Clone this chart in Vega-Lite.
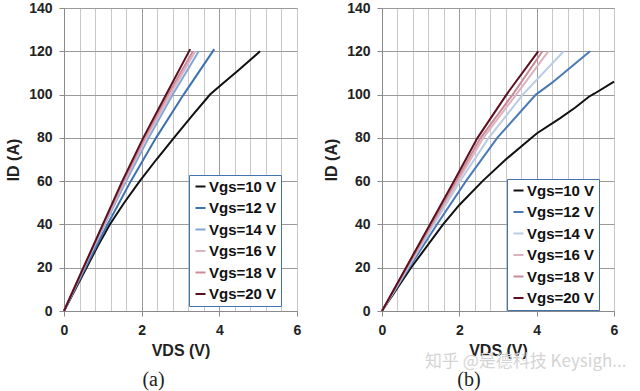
{
  "$schema": "https://vega.github.io/schema/vega-lite/v6.json",
  "padding": {"left": 5, "top": 0, "right": 5, "bottom": 0},
  "background": "white",
  "spacing": 21,
  "title": {"text": "知乎 @是德科技 Keysigh...", "orient": "bottom", "anchor": "end", "offset": -37, "font": "Noto Sans CJK SC", "fontSize": 17, "color": "#d4d4d4", "fontWeight": "normal", "dx": 8},
  "datasets": {
    "a": [
      {"Vgs": "Vgs=10 V", "V": 0, "I": 0}, {"Vgs": "Vgs=10 V", "V": 0.58, "I": 20}, {"Vgs": "Vgs=10 V", "V": 0.87, "I": 30}, {"Vgs": "Vgs=10 V", "V": 1.18, "I": 40}, {"Vgs": "Vgs=10 V", "V": 1.55, "I": 50}, {"Vgs": "Vgs=10 V", "V": 1.95, "I": 60}, {"Vgs": "Vgs=10 V", "V": 2.38, "I": 70}, {"Vgs": "Vgs=10 V", "V": 2.83, "I": 80}, {"Vgs": "Vgs=10 V", "V": 3.29, "I": 90}, {"Vgs": "Vgs=10 V", "V": 3.76, "I": 100}, {"Vgs": "Vgs=10 V", "V": 4.05, "I": 104.5}, {"Vgs": "Vgs=10 V", "V": 4.5, "I": 111.3}, {"Vgs": "Vgs=10 V", "V": 5.05, "I": 120},
      {"Vgs": "Vgs=12 V", "V": 0, "I": 0}, {"Vgs": "Vgs=12 V", "V": 0.55, "I": 20}, {"Vgs": "Vgs=12 V", "V": 1.12, "I": 40}, {"Vgs": "Vgs=12 V", "V": 1.72, "I": 60}, {"Vgs": "Vgs=12 V", "V": 2.37, "I": 80}, {"Vgs": "Vgs=12 V", "V": 3.08, "I": 100}, {"Vgs": "Vgs=12 V", "V": 3.87, "I": 121},
      {"Vgs": "Vgs=14 V", "V": 0, "I": 0}, {"Vgs": "Vgs=14 V", "V": 0.52, "I": 20}, {"Vgs": "Vgs=14 V", "V": 1.05, "I": 40}, {"Vgs": "Vgs=14 V", "V": 1.6, "I": 60}, {"Vgs": "Vgs=14 V", "V": 2.18, "I": 80}, {"Vgs": "Vgs=14 V", "V": 2.8, "I": 100}, {"Vgs": "Vgs=14 V", "V": 3.47, "I": 120},
      {"Vgs": "Vgs=16 V", "V": 0, "I": 0}, {"Vgs": "Vgs=16 V", "V": 0.51, "I": 20}, {"Vgs": "Vgs=16 V", "V": 1.03, "I": 40}, {"Vgs": "Vgs=16 V", "V": 1.56, "I": 60}, {"Vgs": "Vgs=16 V", "V": 2.12, "I": 80}, {"Vgs": "Vgs=16 V", "V": 2.74, "I": 100}, {"Vgs": "Vgs=16 V", "V": 3.38, "I": 120},
      {"Vgs": "Vgs=18 V", "V": 0, "I": 0}, {"Vgs": "Vgs=18 V", "V": 0.5, "I": 20}, {"Vgs": "Vgs=18 V", "V": 1.01, "I": 40}, {"Vgs": "Vgs=18 V", "V": 1.53, "I": 60}, {"Vgs": "Vgs=18 V", "V": 2.08, "I": 80}, {"Vgs": "Vgs=18 V", "V": 2.68, "I": 100}, {"Vgs": "Vgs=18 V", "V": 3.32, "I": 120},
      {"Vgs": "Vgs=20 V", "V": 0, "I": 0}, {"Vgs": "Vgs=20 V", "V": 0.5, "I": 20}, {"Vgs": "Vgs=20 V", "V": 1.0, "I": 40}, {"Vgs": "Vgs=20 V", "V": 1.5, "I": 60}, {"Vgs": "Vgs=20 V", "V": 2.04, "I": 80}, {"Vgs": "Vgs=20 V", "V": 2.63, "I": 100}, {"Vgs": "Vgs=20 V", "V": 3.25, "I": 121}
    ],
    "b": [
      {"Vgs": "Vgs=10 V", "V": 0, "I": 0}, {"Vgs": "Vgs=10 V", "V": 0.75, "I": 20}, {"Vgs": "Vgs=10 V", "V": 1.58, "I": 40}, {"Vgs": "Vgs=10 V", "V": 2.0, "I": 49}, {"Vgs": "Vgs=10 V", "V": 2.6, "I": 60}, {"Vgs": "Vgs=10 V", "V": 3.2, "I": 70}, {"Vgs": "Vgs=10 V", "V": 4.0, "I": 82}, {"Vgs": "Vgs=10 V", "V": 4.6, "I": 89}, {"Vgs": "Vgs=10 V", "V": 5.0, "I": 94}, {"Vgs": "Vgs=10 V", "V": 5.35, "I": 99}, {"Vgs": "Vgs=10 V", "V": 5.5, "I": 100.5}, {"Vgs": "Vgs=10 V", "V": 6.0, "I": 106},
      {"Vgs": "Vgs=12 V", "V": 0, "I": 0}, {"Vgs": "Vgs=12 V", "V": 0.7, "I": 20}, {"Vgs": "Vgs=12 V", "V": 1.42, "I": 40}, {"Vgs": "Vgs=12 V", "V": 2.17, "I": 60}, {"Vgs": "Vgs=12 V", "V": 2.98, "I": 80}, {"Vgs": "Vgs=12 V", "V": 3.98, "I": 100}, {"Vgs": "Vgs=12 V", "V": 4.4, "I": 105.5}, {"Vgs": "Vgs=12 V", "V": 5.38, "I": 120},
      {"Vgs": "Vgs=14 V", "V": 0, "I": 0}, {"Vgs": "Vgs=14 V", "V": 0.67, "I": 20}, {"Vgs": "Vgs=14 V", "V": 1.34, "I": 40}, {"Vgs": "Vgs=14 V", "V": 2.02, "I": 60}, {"Vgs": "Vgs=14 V", "V": 2.76, "I": 80}, {"Vgs": "Vgs=14 V", "V": 3.64, "I": 100}, {"Vgs": "Vgs=14 V", "V": 4.7, "I": 120},
      {"Vgs": "Vgs=16 V", "V": 0, "I": 0}, {"Vgs": "Vgs=16 V", "V": 0.65, "I": 20}, {"Vgs": "Vgs=16 V", "V": 1.3, "I": 40}, {"Vgs": "Vgs=16 V", "V": 1.96, "I": 60}, {"Vgs": "Vgs=16 V", "V": 2.62, "I": 80}, {"Vgs": "Vgs=16 V", "V": 3.47, "I": 100}, {"Vgs": "Vgs=16 V", "V": 4.3, "I": 120},
      {"Vgs": "Vgs=18 V", "V": 0, "I": 0}, {"Vgs": "Vgs=18 V", "V": 0.64, "I": 20}, {"Vgs": "Vgs=18 V", "V": 1.28, "I": 40}, {"Vgs": "Vgs=18 V", "V": 1.91, "I": 60}, {"Vgs": "Vgs=18 V", "V": 2.55, "I": 80}, {"Vgs": "Vgs=18 V", "V": 3.38, "I": 100}, {"Vgs": "Vgs=18 V", "V": 4.15, "I": 120},
      {"Vgs": "Vgs=20 V", "V": 0, "I": 0}, {"Vgs": "Vgs=20 V", "V": 0.62, "I": 20}, {"Vgs": "Vgs=20 V", "V": 1.24, "I": 40}, {"Vgs": "Vgs=20 V", "V": 1.86, "I": 60}, {"Vgs": "Vgs=20 V", "V": 2.47, "I": 80}, {"Vgs": "Vgs=20 V", "V": 3.22, "I": 100}, {"Vgs": "Vgs=20 V", "V": 3.3, "I": 102}, {"Vgs": "Vgs=20 V", "V": 4.04, "I": 120}
    ]
  },
  "config": {
    "font": "Liberation Sans",
    "view": {"stroke": "#9a9a9a", "strokeWidth": 1},
    "axis": {
      "labelFont": "Liberation Sans", "labelFontSize": 14, "labelFontWeight": "bold", "labelColor": "#222",
      "titleFont": "Liberation Sans", "titleFontSize": 16, "titleFontWeight": "bold", "titleColor": "#222",
      "domainColor": "#8a8a8a", "tickColor": "#8a8a8a", "tickSize": 5, "labelPadding": 7, "labelFlush": false
    },
    "line": {"strokeWidth": 2},
    "title": {"font": "Liberation Serif", "fontSize": 20, "fontWeight": "normal", "color": "#222", "orient": "bottom", "offset": 12}
  },
  "resolve": {"scale": {"color": "independent"}, "legend": {"color": "independent"}},
  "hconcat": [
    {
      "width": 233, "height": 303,
      "title": {"text": "(a)", "dx": -27},
      "data": {"name": "a"},
      "mark": {"type": "line"},
      "encoding": {
        "x": {"field": "V", "type": "quantitative", "scale": {"domain": [0, 6], "nice": false},
          "axis": {"title": "VDS (V)", "titlePadding": 5, "labelFlush": false, "values": [0, 0.4, 0.8, 1.2, 1.6, 2, 2.4, 2.8, 3.2, 3.6, 4, 4.4, 4.8, 5.2, 5.6, 6],
            "labelExpr": "(datum.value == 0 || datum.value == 2 || datum.value == 4 || datum.value == 6) ? ('' + datum.value) : ''",
            "labelOverlap": false,
            "tickOpacity": {"condition": {"test": "datum.value == 0 || datum.value == 2 || datum.value == 4 || datum.value == 6", "value": 1}, "value": 0},
            "gridColor": {"condition": {"test": "datum.value == 2 || datum.value == 4", "value": "#9a9a9a"}, "value": "#c8c8c8"}}},
        "y": {"field": "I", "type": "quantitative", "scale": {"domain": [0, 140], "nice": false},
          "axis": {"title": "ID (A)", "titlePadding": 7, "labelFlush": false, "values": [0, 20, 40, 60, 80, 100, 120, 140], "gridColor": "#9a9a9a"}},
        "color": {"field": "Vgs", "type": "nominal",
          "scale": {"domain": ["Vgs=10 V", "Vgs=12 V", "Vgs=14 V", "Vgs=16 V", "Vgs=18 V", "Vgs=20 V"],
            "range": ["#111111", "#3d72ad", "#7fa8d4", "#d8b4c4", "#cf8a98", "#5a1020"]},
          "legend": {"title": null, "orient": "none", "legendX": 125, "legendY": 167, "strokeColor": "#3f74b0", "fillColor": "white", "padding": 4,
            "labelFont": "Liberation Sans", "labelFontSize": 15, "labelFontWeight": "bold", "labelColor": "#111", "labelOffset": 1,
            "symbolType": "stroke", "symbolSize": 100, "symbolStrokeWidth": 2, "rowPadding": 5.5,
            "encode": {"legend": {"update": {"strokeDash": {"value": [3, 2]}, "strokeWidth": {"value": 1}}}}}}
      }
    },
    {
      "width": 232, "height": 303,
      "title": {"text": "(b)", "dx": -29},
      "data": {"name": "b"},
      "mark": {"type": "line"},
      "encoding": {
        "x": {"field": "V", "type": "quantitative", "scale": {"domain": [0, 6], "nice": false},
          "axis": {"title": "VDS (V)", "titlePadding": 5, "labelFlush": false, "values": [0, 0.4, 0.8, 1.2, 1.6, 2, 2.4, 2.8, 3.2, 3.6, 4, 4.4, 4.8, 5.2, 5.6, 6],
            "labelExpr": "(datum.value == 0 || datum.value == 2 || datum.value == 4 || datum.value == 6) ? ('' + datum.value) : ''",
            "labelOverlap": false,
            "tickOpacity": {"condition": {"test": "datum.value == 0 || datum.value == 2 || datum.value == 4 || datum.value == 6", "value": 1}, "value": 0},
            "gridColor": {"condition": {"test": "datum.value == 2 || datum.value == 4", "value": "#9a9a9a"}, "value": "#c8c8c8"}}},
        "y": {"field": "I", "type": "quantitative", "scale": {"domain": [0, 140], "nice": false},
          "axis": {"title": "ID (A)", "titlePadding": 7, "labelFlush": false, "values": [0, 20, 40, 60, 80, 100, 120, 140], "gridColor": "#9a9a9a"}},
        "color": {"field": "Vgs", "type": "nominal",
          "scale": {"domain": ["Vgs=10 V", "Vgs=12 V", "Vgs=14 V", "Vgs=16 V", "Vgs=18 V", "Vgs=20 V"],
            "range": ["#111111", "#4a7ab5", "#b8cce4", "#dcb2bf", "#c88b98", "#5b0f1f"]},
          "legend": {"title": null, "orient": "none", "legendX": 125, "legendY": 171, "strokeColor": "#3f74b0", "fillColor": "white", "padding": 4,
            "labelFont": "Liberation Sans", "labelFontSize": 15, "labelFontWeight": "bold", "labelColor": "#111", "labelOffset": 1,
            "symbolType": "stroke", "symbolSize": 100, "symbolStrokeWidth": 2, "rowPadding": 5.5,
            "encode": {"legend": {"update": {"strokeDash": {"value": [3, 2]}, "strokeWidth": {"value": 1}}}}}}
      }
    }
  ]
}
